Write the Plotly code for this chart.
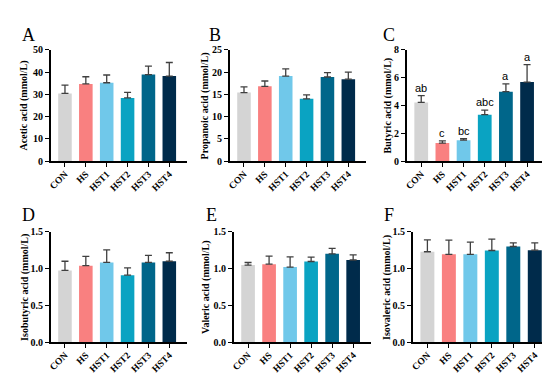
import plotly.graph_objects as go

groups = ["CON", "HS", "HST1", "HST2", "HST3", "HST4"]
colors = ["#d4d4d4", "#f98080", "#70c8ea", "#0aa3c2", "#00668a", "#002b4b"]

acetic_mean = [30.4, 34.7, 35.2, 28.4, 38.9, 38.2]
acetic_sd = [3.7, 3.2, 3.5, 2.5, 3.8, 6.1]
propanoic_mean = [15.4, 16.8, 19.1, 14.0, 18.9, 18.4]
propanoic_sd = [1.3, 1.2, 1.6, 0.9, 1.0, 1.6]
butyric_mean = [4.22, 1.30, 1.51, 3.34, 4.99, 5.68]
butyric_sd = [0.49, 0.16, 0.11, 0.33, 0.56, 1.26]
butyric_letters = ["ab", "c", "bc", "abc", "a", "a"]
isobutyric_mean = [0.975, 1.04, 1.084, 0.91, 1.084, 1.10]
isobutyric_sd = [0.125, 0.127, 0.171, 0.10, 0.096, 0.115]
valeric_mean = [1.048, 1.06, 1.02, 1.096, 1.20, 1.117]
valeric_sd = [0.035, 0.11, 0.14, 0.061, 0.074, 0.07]
isovaleric_mean = [1.229, 1.194, 1.194, 1.246, 1.30, 1.25]
isovaleric_sd = [0.161, 0.192, 0.166, 0.154, 0.05, 0.10]

W, H = 550, 375

panels = [
    dict(letter="A", title="Acetic acid (mmol/L)", mean=acetic_mean, sd=acetic_sd,
         ymax=50, dtick=10, fmt="d", px=(40, 177), py=(37, 152), lx=18, ly=22, tx=14),
    dict(letter="B", title="Propanoic acid (mmol/L)", mean=propanoic_mean, sd=propanoic_sd,
         ymax=25, dtick=5, fmt="d", px=(220, 357), py=(37, 152), lx=205, ly=22, tx=196),
    dict(letter="C", title="Butyric acid (mmol/L)", mean=butyric_mean, sd=butyric_sd,
         ymax=8, dtick=2, fmt="d", px=(398, 537), py=(37, 152), lx=380, ly=22, tx=380,
         letters=butyric_letters),
    dict(letter="D", title="Isobutyric acid (mmol/L)", mean=isobutyric_mean, sd=isobutyric_sd,
         ymax=1.5, dtick=0.5, fmt=".1f", px=(40, 177), py=(225, 339), lx=18, ly=208, tx=14),
    dict(letter="E", title="Valeric acid (mmol/L)", mean=valeric_mean, sd=valeric_sd,
         ymax=1.5, dtick=0.5, fmt=".1f", px=(224, 362), py=(225, 339), lx=202, ly=208, tx=196),
    dict(letter="F", title="Isovaleric acid (mmol/L)", mean=isovaleric_mean, sd=isovaleric_sd,
         ymax=1.5, dtick=0.5, fmt=".1f", px=(404, 545), py=(225, 339), lx=380, ly=208, tx=378),
]

serif = "Liberation Serif, Times New Roman, serif"
fig = go.Figure()
annotations = []
layout = dict(width=W, height=H, margin=dict(l=0, r=0, t=0, b=0),
              plot_bgcolor="white", paper_bgcolor="white", showlegend=False,
              font=dict(family=serif, color="black"))

for i, p in enumerate(panels):
    n = "" if i == 0 else str(i + 1)
    xa, ya = "x" + n, "y" + n
    fig.add_trace(go.Bar(
        x=groups, y=p["mean"], xaxis=xa, yaxis=ya,
        marker=dict(color=colors, line=dict(width=0)), width=0.65,
        error_y=dict(type="data", symmetric=False, array=p["sd"],
                     arrayminus=[0] * len(groups), color="#404040",
                     thickness=1.3, width=3.5),
        hoverinfo="skip",
    ))
    xd = [p["px"][0] / W, p["px"][1] / W]
    yd = [1 - p["py"][1] / H, 1 - p["py"][0] / H]
    layout["xaxis" + n] = dict(
        domain=xd, anchor=ya, type="category", range=[-0.68, 5.85],
        showline=True, linecolor="black", linewidth=1.5, ticks="outside",
        ticklen=4, tickwidth=1.3, tickcolor="black", tickangle=-45,
        ticklabelstandoff=-2,
        tickfont=dict(family=serif, size=9.5, color="black", weight="bold"),
        showgrid=False, zeroline=False, fixedrange=True,
    )
    layout["yaxis" + n] = dict(
        domain=yd, anchor=xa, range=[0, p["ymax"]], dtick=p["dtick"], tick0=0,
        tickformat=p["fmt"], showline=True, linecolor="black", linewidth=1.5,
        ticks="outside", ticklen=4, tickwidth=1.3, tickcolor="black",
        tickfont=dict(family=serif, size=10, color="black", weight="bold"),
        showgrid=False, zeroline=False, fixedrange=True,
    )
    annotations.append(dict(
        text=p["letter"], x=p["lx"] / W, y=1 - p["ly"] / H, xref="paper", yref="paper",
        xanchor="center", yanchor="middle", showarrow=False,
        font=dict(family=serif, size=18, color="black")))
    annotations.append(dict(
        text=p["title"], x=p["tx"] / W, y=(yd[0] + yd[1]) / 2, xref="paper", yref="paper",
        xanchor="center", yanchor="middle", textangle=-90, showarrow=False,
        font=dict(family=serif, size=10, color="black", weight="bold")))
    if "letters" in p:
        for g, m, s, t in zip(groups, p["mean"], p["sd"], p["letters"]):
            annotations.append(dict(
                text=t, x=g, y=m + s, xref=xa, yref=ya, xanchor="center",
                yanchor="bottom", yshift=0, showarrow=False,
                font=dict(family="Liberation Sans, Arial, sans-serif", size=11, color="black")))

layout["annotations"] = annotations
fig.update_layout(**layout)
fig.write_html("out.html")
